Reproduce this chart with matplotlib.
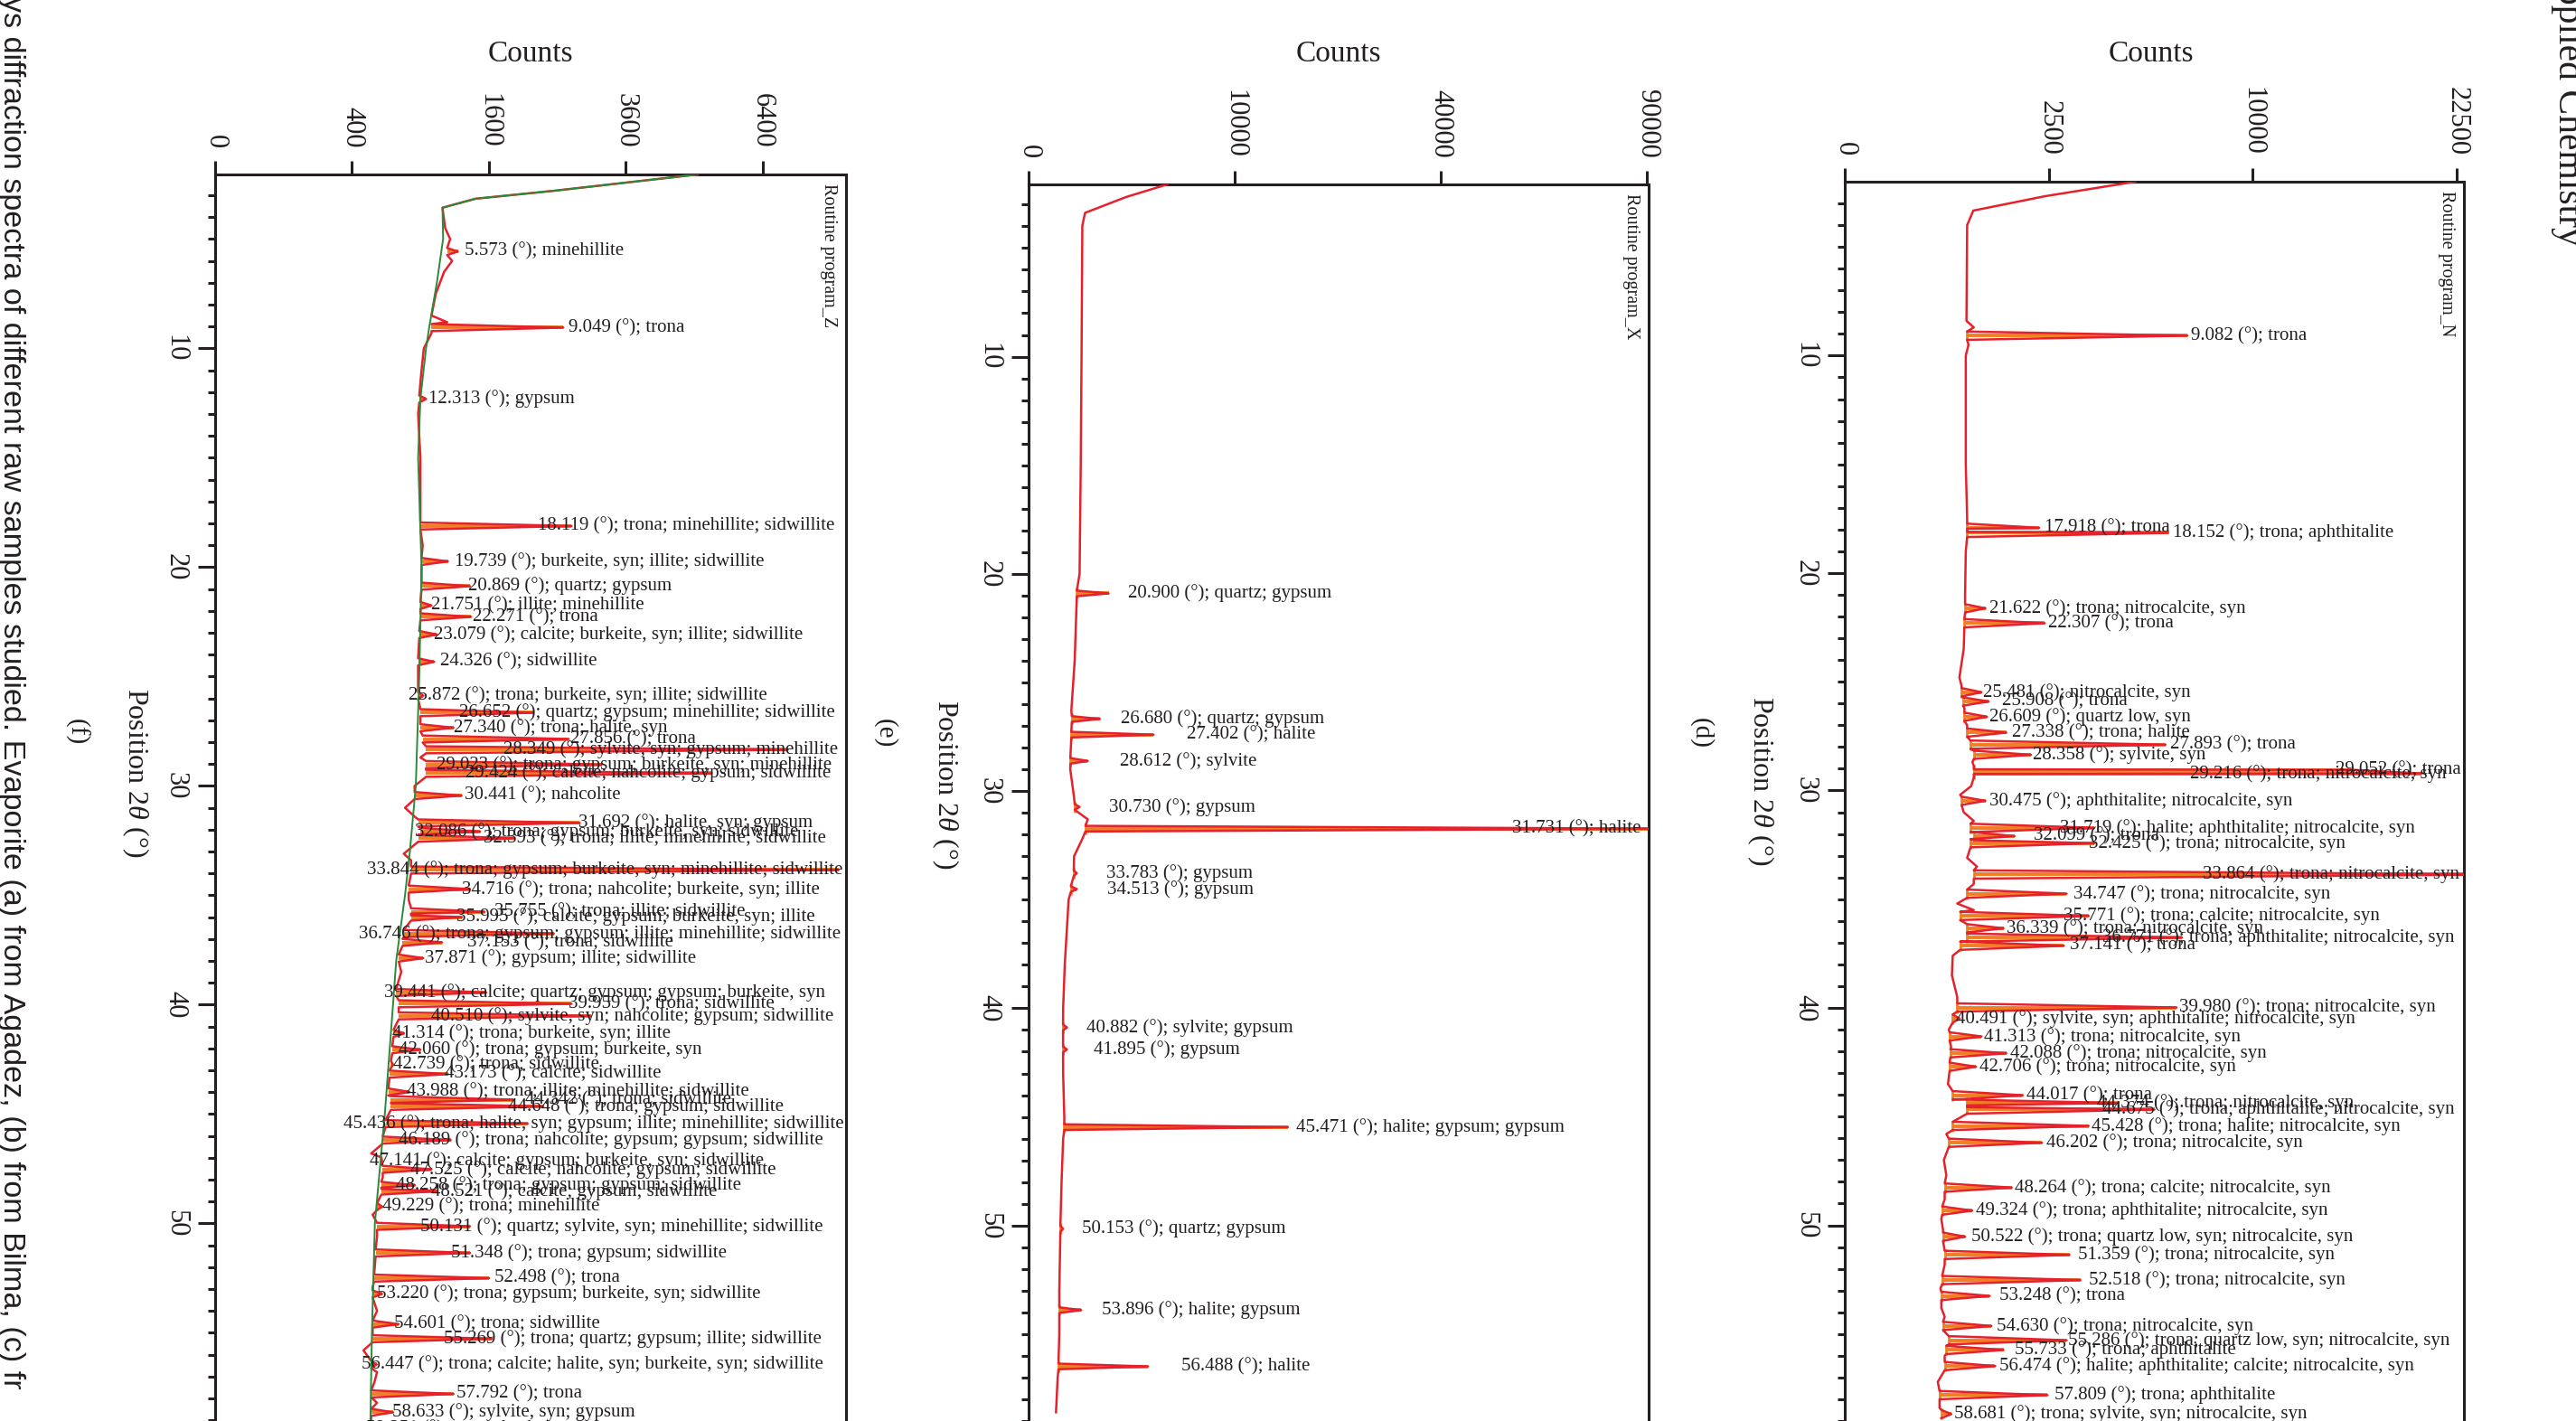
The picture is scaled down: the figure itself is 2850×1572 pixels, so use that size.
import numpy as np
import matplotlib
matplotlib.use("Agg")
import matplotlib.pyplot as plt
from matplotlib.ticker import NullLocator

plt.rcParams['font.family'] = ['Liberation Serif', 'DejaVu Serif']
plt.rcParams['mathtext.fontset'] = 'custom'
plt.rcParams['mathtext.rm'] = 'Liberation Serif'
plt.rcParams['mathtext.it'] = 'Liberation Serif:italic'

# ---------------------------------------------------------------- data
# Panel (f): Routine program_Z  (2theta in degrees, counts)
z_bg_x = [2.05, 2.79, 3.16, 3.57, 5.0, 7.0, 9.0, 10.0, 12.3, 15.0, 20.0, 25.0, 30.0, 33.0, 35.0, 38.0, 40.0, 45.0, 50.0, 55.0, 59.03]
z_bg_y = [4973, 2470, 1447, 1104, 1110, 1050, 980, 950, 900, 880, 910, 890, 860, 810, 770, 700, 676, 615, 545, 525, 515]
z_prof_x = [2.05, 2.79, 3.16, 3.57, 4.5, 5.0, 6.0, 6.5, 7.5, 8.5, 8.8, 9.3, 10.0, 11.0, 13.0, 15.0, 17.0, 19.0, 21.0,
            23.0, 25.0, 28.7, 30.0, 31.0, 31.4, 33.1, 33.4, 35.2, 38.5, 40.9, 44.8, 46.8, 47.9, 49.6, 50.6, 52.9,
            54.0, 55.8, 56.8, 57.3, 58.2, 59.03]
z_prof_y = [4973, 2470, 1447, 1104, 1130, 1180, 1200, 1120, 1040, 1000, 1150, 1000, 930, 910, 880, 900, 900, 920, 900,
            880, 880, 900, 850, 770, 850, 760, 820, 800, 740, 700, 640, 520, 600, 530, 560, 530,
            560, 470, 560, 540, 560, 520]
z_pos = [5.573, 9.049, 12.313, 18.119, 19.739, 20.869, 21.751, 22.271, 23.079, 24.326, 25.872, 26.652, 27.340,
         27.856, 28.349, 29.023, 29.424, 30.441, 31.692, 32.086, 32.393, 33.844, 34.716, 35.755, 35.995, 36.746,
         37.153, 37.871, 39.441, 39.959, 40.510, 41.314, 42.060, 42.739, 43.173, 43.988, 44.342, 44.648, 45.436,
         46.189, 47.141, 47.525, 48.258, 48.521, 49.229, 50.131, 51.348, 52.498, 53.220, 54.601, 55.269, 56.447,
         57.792, 58.633, 59.351]
z_height = [1258, 2590, 950, 2713, 1157, 1387, 1000, 1399, 1051, 1025, 925, 2160, 1213,
            2670, 7000, 3192, 5266, 1297, 2840, 1500, 1906, 8300, 1387, 1550, 1300, 2450,
            1100, 925, 1570, 2713, 3013, 762, 900, 676, 1157, 807, 1900, 2300, 2086,
            1185, 595, 1000, 853, 1051, 595, 1387, 1387, 1603, 595, 718, 1635, 557,
            1213, 676, 540]
z_foot = [1150, 1000, 890, 900, 910, 910, 900, 900, 890, 880, 880, 900, 900,
          920, 950, 950, 950, 850, 880, 900, 880, 820, 800, 820, 820, 760,
          750, 720, 700, 720, 720, 680, 670, 660, 650, 640, 660, 660, 620,
          600, 590, 600, 590, 590, 560, 560, 550, 540, 530, 530, 530, 520,
          520, 520, 510]
z_label_at = [1327, 2670, 975, 2219, 1225, 1369, 1000, 1416, 1025, 1078, 797, 1270, 1213,
              2697, 1770, 1051, 1340, 1327, 2820, 853, 1540, 491, 1297, 1670, 1241, 442,
              1357, 940, 607, 2670, 1000, 668, 718, 676, 1130, 784, 2050, 1837, 353,
              718, 512, 816, 697, 1000, 595, 900, 1185, 1670, 557, 685, 1120, 459,
              1241, 668, 484]
z_phase = ["minehillite", "trona", "gypsum", "trona; minehillite; sidwillite",
           "burkeite, syn; illite; sidwillite", "quartz; gypsum", "illite; minehillite", "trona",
           "calcite; burkeite, syn; illite; sidwillite", "sidwillite",
           "trona; burkeite, syn; illite; sidwillite", "quartz; gypsum; minehillite; sidwillite",
           "trona; halite, syn", "trona", "sylvite, syn; gypsum; minehillite",
           "trona; gypsum; burkeite, syn; minehillite", "calcite; nahcolite; gypsum; sidwillite",
           "nahcolite", "halite, syn; gypsum", "trona; gypsum; burkeite, syn; sidwillite",
           "trona; illite; minehillite; sidwillite",
           "trona; gypsum; burkeite, syn; minehillite; sidwillite",
           "trona; nahcolite; burkeite, syn; illite", "trona; illite; sidwillite",
           "calcite; gypsum; burkeite, syn; illite",
           "trona; gypsum; gypsum; illite; minehillite; sidwillite", "trona; sidwillite",
           "gypsum; illite; sidwillite", "calcite; quartz; gypsum; gypsum; burkeite, syn",
           "trona; sidwillite", "sylvite, syn; nahcolite; gypsum; sidwillite",
           "trona; burkeite, syn; illite", "trona; gypsum; burkeite, syn", "trona; sidwillite",
           "calcite; sidwillite", "trona; illite; minehillite; sidwillite", "trona; sidwillite",
           "trona; gypsum; sidwillite",
           "trona; halite, syn; gypsum; illite; minehillite; sidwillite",
           "trona; nahcolite; gypsum; gypsum; sidwillite",
           "calcite; gypsum; burkeite, syn; sidwillite", "calcite; nahcolite; gypsum; sidwillite",
           "trona; gypsum; gypsum; sidwillite", "calcite; gypsum; sidwillite", "trona; minehillite",
           "quartz; sylvite, syn; minehillite; sidwillite", "trona; gypsum; sidwillite", "trona",
           "trona; gypsum; burkeite, syn; sidwillite", "trona; sidwillite",
           "trona; quartz; gypsum; illite; sidwillite",
           "trona; calcite; halite, syn; burkeite, syn; sidwillite", "trona",
           "sylvite, syn; gypsum", "trona; burkeite, syn"]

# Panel (e): Routine program_X
x_prof_x = [2.07, 2.65, 3.38, 3.97, 10.0, 15.0, 20.0, 21.0, 24.0, 26.3, 29.0, 30.3, 31.3, 32.2, 33.0, 35.0,
            38.0, 40.0, 43.0, 45.0, 46.0, 48.0, 50.0, 53.0, 55.0, 57.0, 58.6]
x_prof_y = [4530, 2240, 750, 680, 660, 640, 612, 548, 500, 430, 409, 487, 825, 680, 487, 377,
            308, 281, 281, 300, 281, 256, 238, 222, 222, 199, 177]
x_pos = [20.900, 26.680, 27.402, 28.612, 30.730, 31.731, 33.783, 34.513, 40.882, 41.895, 45.471, 50.153,
         53.896, 56.488]
x_height = [1507, 1195, 3675, 825, 612, 95000, 548, 548, 347, 347, 15826, 281, 651, 3363]
x_foot = [548, 440, 430, 410, 500, 760, 480, 420, 280, 280, 300, 238, 222, 210]
x_label_at = [2316, 1996, 5868, 1948, 1507, 55000, 1406, 1446, 780, 985, 16848, 679, 1251, 5467]
x_phase = ["quartz; gypsum", "quartz; gypsum", "halite", "sylvite", "gypsum", "halite", "gypsum", "gypsum",
           "sylvite; gypsum", "gypsum", "halite; gypsum; gypsum", "quartz; gypsum", "halite; gypsum", "halite"]

# Panel (d): Routine program_N
n_prof_x = [2.0, 2.67, 3.33, 4.0, 8.4, 8.7, 9.5, 10.0, 15.0, 17.5, 19.0, 21.0, 23.5, 24.8, 25.2, 26.2, 27.0,
            28.7, 29.8, 30.2, 31.0, 31.4, 33.1, 33.5, 34.3, 35.2, 35.5, 37.6, 38.5, 39.5, 40.3, 41.0, 41.8,
            43.5, 44.3, 45.8, 47.0, 47.7, 48.8, 49.7, 50.2, 51.8, 52.9, 53.8, 54.2, 56.0, 57.2, 58.4, 58.78]
n_prof_y = [5073, 2402, 992, 900, 890, 1000, 920, 880, 880, 900, 880, 870, 850, 790, 820, 860, 900,
            980, 960, 800, 850, 1000, 900, 1050, 1000, 760, 1000, 700, 690, 760, 700, 650, 680,
            640, 800, 620, 590, 620, 600, 560, 580, 600, 550, 560, 600, 600, 520, 540, 560]
n_pos = [9.082, 17.918, 18.152, 21.622, 22.307, 25.481, 25.908, 26.609, 27.338, 27.893, 28.358, 29.052,
         29.216, 30.475, 31.719, 32.099, 32.425, 33.864, 34.747, 35.771, 36.339, 36.771, 37.141, 39.980,
         40.491, 41.313, 42.088, 42.706, 44.017, 44.374, 44.675, 45.428, 46.202, 48.264, 49.324, 50.522,
         51.359, 52.518, 53.248, 54.630, 55.286, 55.733, 56.474, 57.809, 58.681]
n_height = [7057, 2272, 6290, 1188, 2402, 1124, 1245, 1216, 1567, 6182, 2083, 15500,
            20000, 1188, 3737, 1731, 3737, 26000, 2959, 3575, 1514, 6835, 2886, 6614,
            792, 1124, 1567, 1036, 1903, 4500, 5763, 3575, 2337, 1675, 976, 870,
            3033, 3337, 1263, 1292, 2959, 1514, 1361, 2470, 682]
n_foot = [900, 900, 900, 870, 860, 820, 840, 860, 900, 950, 1000, 1000,
          1000, 820, 950, 1000, 950, 1000, 900, 800, 900, 900, 800, 760,
          700, 660, 670, 660, 700, 900, 900, 700, 650, 600, 570, 580,
          600, 570, 560, 580, 650, 620, 600, 540, 560]
n_label_at = [7220, 2402, 6463, 1263, 2482, 1151, 1482, 1263, 1675, 6355, 2120, 14490,
              7170, 1263, 2787, 2144, 3575, 7708, 3136, 2886, 1567, 3985, 3033, 6724,
              740, 1170, 1642, 1097, 1985, 3818, 3985, 3658, 2442, 1731, 1036, 967,
              3260, 3575, 1431, 1381, 3003, 1731, 1431, 2632, 718]
n_phase = ["trona", "trona", "trona; aphthitalite", "trona; nitrocalcite, syn", "trona", "nitrocalcite, syn",
           "trona", "quartz low, syn", "trona; halite", "trona", "sylvite, syn", "trona",
           "trona; nitrocalcite, syn", "aphthitalite; nitrocalcite, syn",
           "halite; aphthitalite; nitrocalcite, syn", "trona", "trona; nitrocalcite, syn",
           "trona; nitrocalcite, syn", "trona; nitrocalcite, syn", "trona; calcite; nitrocalcite, syn",
           "trona; nitrocalcite, syn", "trona; aphthitalite; nitrocalcite, syn", "trona",
           "trona; nitrocalcite, syn", "sylvite, syn; aphthitalite; nitrocalcite, syn",
           "trona; nitrocalcite, syn", "trona; nitrocalcite, syn", "trona; nitrocalcite, syn", "trona",
           "trona; nitrocalcite, syn", "trona; aphthitalite; nitrocalcite, syn",
           "trona; halite; nitrocalcite, syn", "trona; nitrocalcite, syn",
           "trona; calcite; nitrocalcite, syn", "trona; aphthitalite; nitrocalcite, syn",
           "trona; quartz low, syn; nitrocalcite, syn", "trona; nitrocalcite, syn",
           "trona; nitrocalcite, syn", "trona", "trona; nitrocalcite, syn",
           "trona; quartz low, syn; nitrocalcite, syn", "trona; aphthitalite",
           "halite; aphthitalite; calcite; nitrocalcite, syn", "trona; aphthitalite",
           "trona; sylvite, syn; nitrocalcite, syn"]

z_ticks = [0, 400, 1600, 3600, 6400]
x_ticks = [0, 10000, 40000, 90000]
n_ticks = [0, 2500, 10000, 22500]
pos_ticks = [10, 20, 30, 40, 50]
panel_names = ["Routine program_Z", "Routine program_X", "Routine program_N"]
panel_letters = ["(f)", "(e)", "(d)"]
caption = ("ys diffraction spectra of different raw samples studied. Evaporite (a) from Agadez, "
           "(b) from Bilma, (c) fr")
journal = "Applied Chemistry"

# ---------------------------------------------------------------- style
RED = "#e5222b"
ORANGE = "#f07f22"
GREEN = "#2a8a3a"
INK = "#231f20"
W, H = 2850, 1572

fig = plt.figure(figsize=(W / 100, H / 100), dpi=100)


def fwd(v):
    return np.sqrt(np.clip(v, 0, None))


def inv(v):
    return np.square(v)


def profile(bx, by, pos, hgt, foot, w):
    pts = [(a, b) for a, b in zip(bx, by) if all(abs(a - p) > w for p in pos)]
    for p, h, f in zip(pos, hgt, foot):
        pts += [(p - w, f), (p, h), (p + w, f)]
    pts.sort()
    arr = np.array(pts)
    return arr[:, 0], arr[:, 1]


def make_panel(px_left, px_right, px_top, xmax, ylo, yhi, ticks):
    ax = fig.add_axes([px_left / W, 0, (px_right - px_left) / W, (H - px_top) / H])
    ax.set_xscale('function', functions=(fwd, inv))
    ax.set_xlim(0, xmax)
    ax.set_ylim(ylo, yhi)
    ax.xaxis.tick_top()
    ax.set_xticks(ticks)
    ax.set_xticklabels([str(t) for t in ticks], rotation=270, fontsize=22, color=INK)
    ax.xaxis.set_minor_locator(NullLocator())
    ax.set_yticks(pos_ticks)
    ax.set_yticks(np.arange(3, 60), minor=True)
    ax.set_yticklabels([str(t) for t in pos_ticks], rotation=270, fontsize=22, va='center', color=INK)
    ax.tick_params(axis='x', which='major', length=11, width=2.2, pad=10, direction='out', colors=INK)
    ax.tick_params(axis='y', which='major', length=14, width=2.2, pad=7, direction='out', colors=INK)
    ax.tick_params(axis='y', which='minor', length=6, width=2.2, direction='out', colors=INK)
    ax.spines['bottom'].set_visible(False)
    for s in ['top', 'left', 'right']:
        ax.spines[s].set_linewidth(2.2)
        ax.spines[s].set_color(INK)
    return ax


def draw_peaks(ax, pos, hgt, foot, lab_at, phases, caps):
    ax.hlines(pos, foot, hgt, colors=ORANGE, lw=2.8, zorder=2)
    if caps:
        ax.plot(foot, pos, ls='none', marker='|', ms=9, mew=2, color=ORANGE, zorder=2)
    for p, la, ph in zip(pos, lab_at, phases):
        ax.text(la, p, f"{p:.3f} (°); {ph}", ha='left', va='center', fontsize=15,
                color=INK, zorder=5, clip_on=False)


# panel (f)
axf = make_panel(238, 936, 193, 8500, 59.03, 2.05, z_ticks)
draw_peaks(axf, z_pos, z_height, z_foot, z_label_at, z_phase, caps=False)
fx, fy = profile(z_prof_x, z_prof_y, z_pos, z_height, z_foot, 0.16)
axf.plot(fy, fx, color=RED, lw=1.8, zorder=3)
axf.plot(z_bg_y, z_bg_x, color=GREEN, lw=1.4, zorder=4)

# panel (e)
axe = make_panel(1138, 1824, 204, 90500, 58.6, 2.07, x_ticks)
draw_peaks(axe, x_pos, x_height, x_foot, x_label_at, x_phase, caps=True)
ex, ey = profile(x_prof_x, x_prof_y, x_pos, x_height, x_foot, 0.13)
axe.plot(ey, ex, color=RED, lw=1.8, zorder=3)

# panel (d)
axd = make_panel(2041, 2726, 201, 23040, 58.78, 2.0, n_ticks)
draw_peaks(axd, n_pos, n_height, n_foot, n_label_at, n_phase, caps=True)
dx, dy = profile(n_prof_x, n_prof_y, n_pos, n_height, n_foot, 0.19)
axd.plot(dy, dx, color=RED, lw=1.8, zorder=3)

# panel texts
for ax, name in zip([axf, axe, axd], panel_names):
    ax.text(0.985, 0.993, name, transform=ax.transAxes, rotation=270, ha='right', va='top',
            fontsize=14.5, color=INK)

for cx, name in zip([587, 1481, 2380], ["Counts"] * 3):
    fig.text(cx / W, 1 - 68 / H, name, ha='center', va='baseline', fontsize=24, color=INK)

for px, py in zip([150, 1046, 1948], [855, 868, 864]):
    fig.text(px / W, 1 - py / H, "Position 2$\\theta$ (°)", rotation=270, ha='center', va='center',
             fontsize=23, color=INK)

for (px, py), lt in zip([(84, 810), (979, 811), (1882, 811)], panel_letters):
    fig.text(px / W, 1 - py / H, lt, rotation=270, ha='center', va='center', fontsize=21, color=INK)

fig.text(28 / W, 1 + 4 / H, caption, rotation=270, ha='right', va='top', fontsize=24.6,
         family=['Liberation Sans', 'DejaVu Sans'], color=INK)
fig.text(2822 / W, 1 + 46 / H, journal, rotation=270, ha='left', va='top', fontsize=30, color=INK)

fig.savefig("out.png", dpi=100)
